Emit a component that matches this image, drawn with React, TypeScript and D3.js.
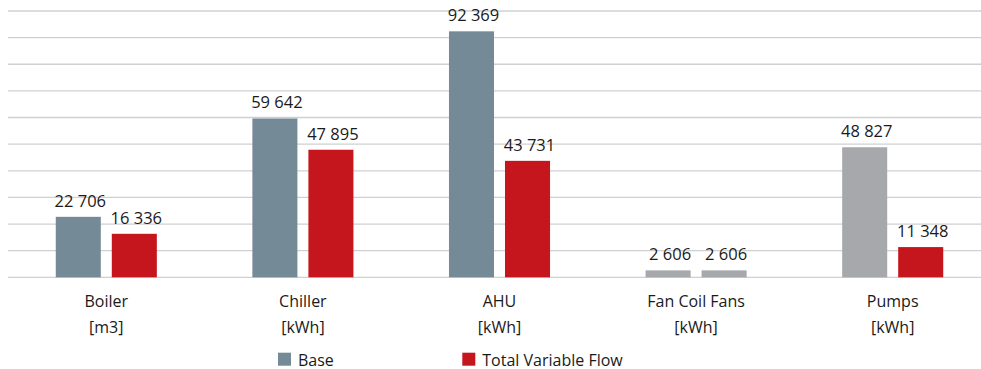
import React from "react";
import * as d3 from "d3";

const categories = ["Boiler", "Chiller", "AHU", "Fan Coil Fans", "Pumps"];
const units = ["[m3]", "[kWh]", "[kWh]", "[kWh]", "[kWh]"];
const seriesNames = ["Base", "Total Variable Flow"];
const baseValues = [22706, 59642, 92369, 2606, 48827];
const variableFlowValues = [16336, 47895, 43731, 2606, 11348];

const SLATE = "#758a97";
const RED = "#c5161e";
const GREY = "#a7a8ab";
// fill per category for each series
const baseFills = [SLATE, SLATE, SLATE, GREY, GREY];
const flowFills = [RED, RED, RED, GREY, RED];

const W = 981;
const H = 369;
const FONT = "'Open Sans', 'Noto Sans', sans-serif";

const fmt = (v: number) => d3.format(",")(v).replace(/,/g, " ");

export default function App() {
  const y = d3.scaleLinear().domain([0, 100000]).range([277.3, 11]);
  const ticks = d3.range(0, 100001, 10000);
  const x0 = d3
    .scaleBand<string>()
    .domain(categories)
    .range([8, 991])
    .paddingInner(0.486)
    .paddingOuter(0.243);
  const x1 = d3
    .scaleBand<string>()
    .domain(seriesNames)
    .range([0, x0.bandwidth()])
    .paddingInner(0.196);

  const seriesData = [
    { name: seriesNames[0], values: baseValues, fills: baseFills },
    { name: seriesNames[1], values: variableFlowValues, fills: flowFills },
  ];

  return (
    <svg
      width={W}
      height={H}
      viewBox={`0 0 ${W} ${H}`}
      style={{ position: "absolute", left: 0, top: 0, background: "#fff" }}
    >
      <g>
        {ticks.map((t) => (
          <line
            key={t}
            x1={8}
            x2={W}
            y1={y(t)}
            y2={y(t)}
            stroke="#d0d0d0"
            strokeWidth={1.3}
          />
        ))}
      </g>
      <g>
        {categories.map((c, i) => (
          <g key={c} transform={`translate(${x0(c)},0)`}>
            {seriesData.map((s) => {
              const v = s.values[i];
              const bx = x1(s.name)!;
              const bw = x1.bandwidth();
              return (
                <g key={s.name}>
                  <rect
                    x={bx}
                    y={y(v)}
                    width={bw}
                    height={y(0) - y(v)}
                    fill={s.fills[i]}
                  />
                  <text
                    x={bx + bw / 2 + 2}
                    y={y(v) - 10}
                    textAnchor="middle"
                    fontFamily={FONT}
                    fontSize={16.5}
                    fill="#1a1a1a"
                  >
                    {fmt(v)}
                  </text>
                </g>
              );
            })}
            <text
              x={x0.bandwidth() / 2}
              y={307}
              textAnchor="middle"
              fontFamily={FONT}
              fontSize={16}
              fill="#1a1a1a"
            >
              {c}
            </text>
            <text
              x={x0.bandwidth() / 2}
              y={333}
              textAnchor="middle"
              fontFamily={FONT}
              fontSize={16}
              fill="#1a1a1a"
            >
              {units[i]}
            </text>
          </g>
        ))}
      </g>
      <g fontFamily={FONT} fontSize={16} fill="#1a1a1a">
        <rect x={278} y={352.7} width={13} height={13} fill={SLATE} />
        <text x={298} y={365.5}>
          {seriesNames[0]}
        </text>
        <rect x={462.3} y={352.7} width={13} height={13} fill={RED} />
        <text x={482.3} y={365.5}>
          {seriesNames[1]}
        </text>
      </g>
    </svg>
  );
}
